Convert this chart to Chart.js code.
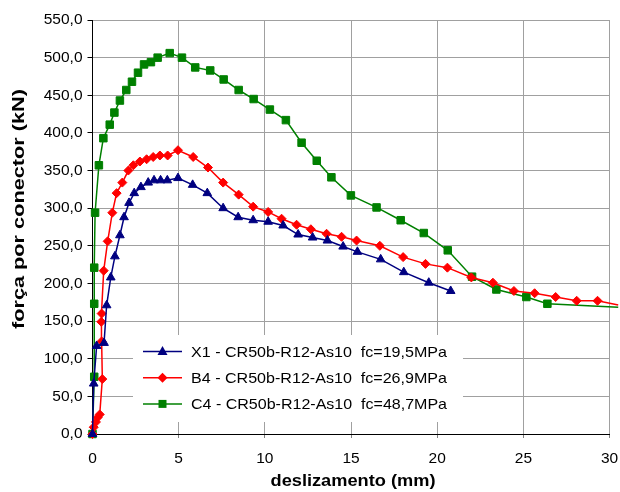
<!DOCTYPE html>
<html>
<head>
<meta charset="utf-8">
<title>força x deslizamento</title>
<script src="https://cdn.jsdelivr.net/npm/chart.js@4.4.0/dist/chart.umd.min.js"></script>
<style>
  body { margin: 0; background: #fff; }
</style>
</head>
<body>
<canvas id="grafico" width="620" height="492"></canvas>
<script>
// X1 - fc=19,5MPa
const x1Desl  = [0, 0.07, 0.24, 0.67, 0.82, 1.06, 1.30, 1.59, 1.83, 2.12, 2.42, 2.81, 3.23, 3.57, 3.95, 4.34, 4.96, 5.81, 6.66, 7.58, 8.45, 9.32, 10.19, 11.06, 11.93, 12.77, 13.63, 14.54, 15.37, 16.72, 18.06, 19.51, 20.78];
const x1Forca = [0, 67, 117, 121, 171, 208, 236, 264, 288, 307, 320, 328, 334, 337, 337, 337, 340, 331, 320, 300, 288, 284, 282, 277, 265, 261, 257, 249, 242, 232, 215, 201, 190];

// B4 - fc=26,9MPa
const b4Desl  = [0, 0.07, 0.2, 0.3, 0.42, 0.57, 0.53, 0.51, 0.53, 0.65, 0.88, 1.15, 1.4, 1.73, 2.08, 2.37, 2.75, 3.14, 3.52, 3.91, 4.36, 4.96, 5.84, 6.70, 7.58, 8.48, 9.32, 10.19, 10.97, 11.84, 12.67, 13.58, 14.45, 15.32, 16.67, 18.02, 19.32, 20.59, 21.98, 23.23, 24.45, 25.65, 26.87, 28.09, 29.3, 30.5];
const b4Forca = [0, 9, 16, 22, 26, 73, 123, 149, 160, 217, 256, 294, 320, 334, 350, 357, 362, 365, 368, 370, 370, 377, 368, 354, 334, 318, 302, 295, 286, 278, 272, 266, 262, 257, 250, 235, 226, 221, 208, 201, 190, 187, 182, 177, 177, 171.5];

// C4 - fc=48,7MPa
const c4Desl  = [0, 0.10, 0.10, 0.10, 0.15, 0.37, 0.63, 1.0, 1.27, 1.59, 1.96, 2.29, 2.64, 2.99, 3.39, 3.78, 4.48, 5.19, 5.96, 6.83, 7.61, 8.48, 9.35, 10.29, 11.22, 12.13, 13.01, 13.86, 14.99, 16.48, 17.88, 19.22, 20.61, 22.02, 23.43, 25.17, 26.39, 30.5];
const c4Forca = [0, 76, 173, 221, 294, 357, 393, 411, 427, 443, 457, 468, 480, 491, 494, 500, 506, 500, 487, 483, 471, 457, 445, 431, 417, 387, 363, 341, 317, 301, 284, 267, 244, 209, 192, 182, 173, 168.5];

const rotulos = [
  'X1 - CR50b-R12-As10  fc=19,5MPa',
  'B4 - CR50b-R12-As10  fc=26,9MPa',
  'C4 - CR50b-R12-As10  fc=48,7MPa'
];
const tituloX = 'deslizamento (mm)';
const tituloY = 'força por conector (kN)';

const fonte = '"Liberation Sans", Arial, sans-serif';
Chart.defaults.font.family = fonte;
Chart.defaults.color = '#000';

function pontos(xs, ys) {
  return xs.map((x, i) => ({ x: x, y: ys[i] }));
}

// markers hidden past the axis end (line still runs a bit further)
function raios(xs, r) {
  return xs.map(x => x > 30 ? 0 : r);
}

function serie(label, xs, ys, cor, estilo, r) {
  return {
    label: label,
    data: pontos(xs, ys),
    borderColor: cor,
    backgroundColor: cor,
    borderWidth: 1.5,
    pointStyle: estilo,
    pointRadius: raios(xs, r),
    pointBorderWidth: 1,
    tension: 0,
    clip: { left: 8, top: 8, right: 12, bottom: 8 }
  };
}

function marcador(ctx, estilo, x, y) {
  ctx.beginPath();
  if (estilo === 'triangle') {
    ctx.moveTo(x, y - 5.5); ctx.lineTo(x + 5, y + 3.5); ctx.lineTo(x - 5, y + 3.5);
  } else if (estilo === 'rectRot') {
    ctx.moveTo(x, y - 5); ctx.lineTo(x + 5, y); ctx.lineTo(x, y + 5); ctx.lineTo(x - 5, y);
  } else {
    ctx.rect(x - 4, y - 4, 8, 8);
  }
  ctx.closePath();
  ctx.fill();
}

// excel text comes out a bit wider than the font, so stretch it to the measured length
function textoEsticado(ctx, texto, cx, cy, largura, font, rot, alinhar) {
  ctx.save();
  ctx.font = font;
  const w = ctx.measureText(texto).width;
  ctx.translate(cx, cy);
  if (rot) ctx.rotate(rot);
  ctx.scale(largura / w, 1);
  ctx.textAlign = alinhar || 'center';
  ctx.textBaseline = 'middle';
  ctx.fillStyle = '#000';
  ctx.fillText(texto, 0, 0);
  ctx.restore();
}

// legend box inside the plot + axis titles
const legendaExcel = {
  id: 'legendaExcel',
  afterDatasetsDraw(chart) {
    const ctx = chart.ctx;
    ctx.save();
    ctx.fillStyle = '#fff';
    ctx.fillRect(133, 335, 330, 87);
    chart.data.datasets.forEach((ds, i) => {
      const y = 351.5 + i * 26.2;
      ctx.strokeStyle = ds.borderColor;
      ctx.lineWidth = 1.5;
      ctx.beginPath(); ctx.moveTo(143, y); ctx.lineTo(182, y); ctx.stroke();
      ctx.fillStyle = ds.backgroundColor;
      marcador(ctx, ds.pointStyle, 162.5, y);
      textoEsticado(ctx, ds.label, 191, y + 1, 256, '15px ' + fonte, 0, 'left');
    });
    ctx.restore();
  },
  afterDraw(chart) {
    const ctx = chart.ctx;
    textoEsticado(ctx, tituloX, 353, 482, 165, 'bold 16px ' + fonte, 0);
    textoEsticado(ctx, tituloY, 20, 209, 240, 'bold 16px ' + fonte, -Math.PI / 2);
  }
};

new Chart(document.getElementById('grafico'), {
  type: 'line',
  data: {
    datasets: [
      serie(rotulos[0], x1Desl, x1Forca, '#000080', 'triangle', 5),
      serie(rotulos[1], b4Desl, b4Forca, '#ff0000', 'rectRot', 4.5),
      serie(rotulos[2], c4Desl, c4Forca, '#008000', 'rect', 5.3)
    ]
  },
  options: {
    responsive: false,
    animation: false,
    devicePixelRatio: 1,
    layout: { padding: { top: 20, right: 0, left: 0, bottom: 0 } },
    plugins: { legend: { display: false }, tooltip: { enabled: false } },
    scales: {
      x: {
        type: 'linear', min: 0, max: 30,
        ticks: { stepSize: 5, font: { size: 15.5 }, padding: 11, maxRotation: 0 },
        grid: { color: '#a0a0a0', tickLength: 4, tickColor: '#808080' },
        border: { color: '#000', width: 1 },
        afterFit: s => { s.height = 58; s.paddingRight = 10.4; s.paddingLeft = 0; }
      },
      y: {
        min: 0, max: 550,
        ticks: { stepSize: 50, font: { size: 15.5 }, padding: 5, callback: v => v.toFixed(1).replace('.', ',') },
        grid: { color: '#a0a0a0', tickLength: 5, tickColor: '#000' },
        border: { color: '#000', width: 1 },
        afterFit: s => { s.width = 92.5; }
      }
    }
  },
  plugins: [legendaExcel]
});
</script>
</body>
</html>
